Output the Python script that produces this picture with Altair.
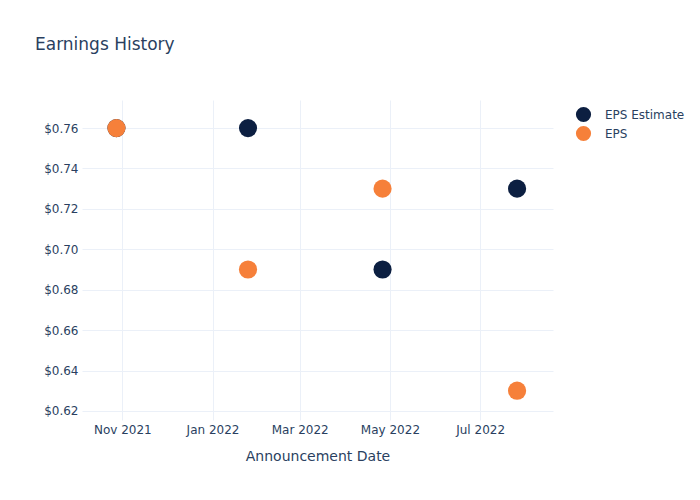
import altair as alt
import pandas as pd

dates = ["2021-10-28", "2022-01-25", "2022-04-26", "2022-07-26"]
eps_estimate = [0.76, 0.76, 0.69, 0.73]
eps_actual = [0.76, 0.69, 0.73, 0.63]
series_names = ["EPS Estimate", "EPS"]
series_colors = ["#0c1f41", "#f6803a"]
y_ticks = [0.62, 0.64, 0.66, 0.68, 0.70, 0.72, 0.74, 0.76]

rows = []
for i, d in enumerate(dates):
    rows.append({"date": d, "value": eps_estimate[i], "series": series_names[0], "order": 0})
for i, d in enumerate(dates):
    rows.append({"date": d, "value": eps_actual[i], "series": series_names[1], "order": 1})
df = pd.DataFrame(rows)

FONT = "DejaVu Sans"
TXT = "#2a3f5f"
GRID = "#ebf0f8"

x_ticks = [
    alt.DateTime(year=2021, month=11, date=1, utc=True),
    alt.DateTime(year=2022, month=1, date=1, utc=True),
    alt.DateTime(year=2022, month=3, date=1, utc=True),
    alt.DateTime(year=2022, month=5, date=1, utc=True),
    alt.DateTime(year=2022, month=7, date=1, utc=True),
]

chart = alt.Chart(df).mark_circle(size=330, opacity=1).encode(
    x=alt.X(
        "date:T",
        scale=alt.Scale(
            type="utc",
            domain=[
                alt.DateTime(year=2021, month=10, date=4, hours=17, utc=True),
                alt.DateTime(year=2022, month=8, date=19, hours=7, utc=True),
            ],
            nice=False,
        ),
        axis=alt.Axis(
            title="Announcement Date",
            values=x_ticks,
            format="%b %Y",
            labelFontSize=12,
            labelColor=TXT,
            labelFont=FONT,
            labelPadding=4,
            titleFont=FONT,
            titleFontSize=14,
            titleFontWeight="normal",
            titleColor=TXT,
            titlePadding=14,
            grid=True,
            gridColor=GRID,
            domain=False,
            ticks=False,
        ),
    ),
    y=alt.Y(
        "value:Q",
        scale=alt.Scale(domain=[0.6155, 0.7739], nice=False, zero=False),
        axis=alt.Axis(
            title=None,
            values=y_ticks,
            format="$.2f",
            labelFontSize=12,
            labelColor=TXT,
            labelFont=FONT,
            labelPadding=4,
            grid=True,
            gridColor=GRID,
            domain=False,
            ticks=False,
        ),
    ),
    color=alt.Color(
        "series:N",
        scale=alt.Scale(domain=series_names, range=series_colors),
        legend=alt.Legend(
            title=None,
            orient="none",
            legendX=493,
            legendY=6,
            symbolType="circle",
            symbolSize=230,
            symbolOpacity=1,
            labelFont=FONT,
            labelFontSize=12,
            labelColor=TXT,
            labelOffset=13,
            rowPadding=2,
            padding=0,
        ),
    ),
    order=alt.Order("order:Q"),
).properties(
    width=471,
    height=320,
    background="white",
    title=alt.TitleParams(
        "Earnings History",
        anchor="start",
        frame="group",
        font=FONT,
        fontSize=17,
        fontWeight="normal",
        color=TXT,
        offset=46,
        dx=-47,
    ),
    autosize=alt.AutoSizeParams(type="none"),
    padding={"left": 74, "top": 92, "right": 139, "bottom": 72},
).configure_view(strokeWidth=0, stroke="transparent")

chart.save("out.html", embed_options={"renderer": "svg", "actions": False})
